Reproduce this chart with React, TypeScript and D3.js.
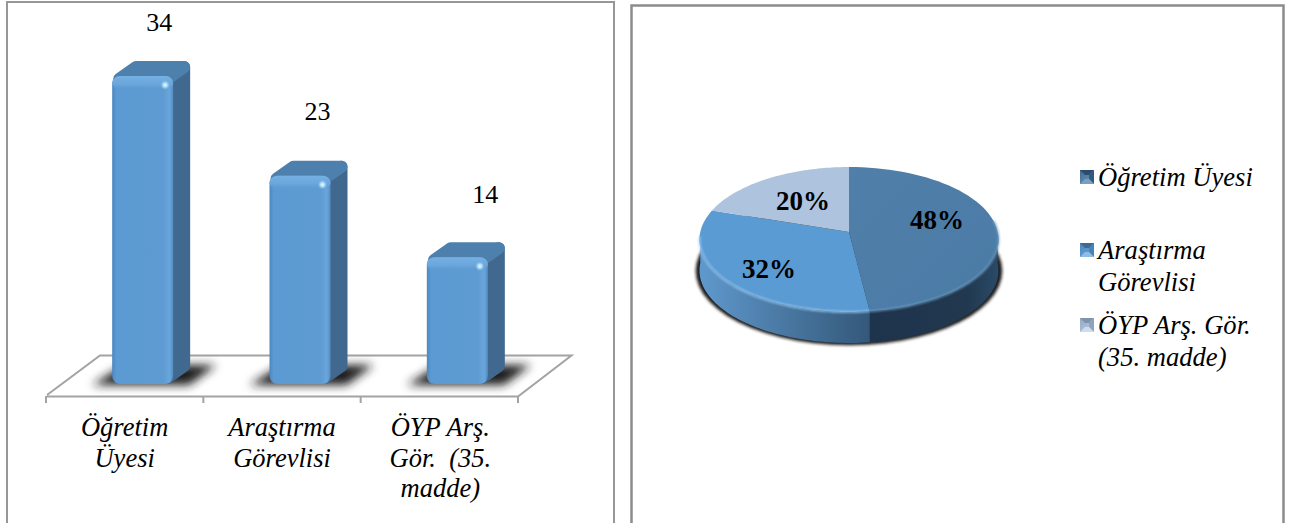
import React from "react";
import * as d3 from "d3";

const barCategories = [["Öğretim", "Üyesi"], ["Araştırma", "Görevlisi"], ["ÖYP Arş.", "Gör.  (35.", "madde)"]];
const barValues = [34, 23, 14];
const pieShares = [48, 32, 20];
const pieLabels = ["48%", "32%", "20%"];
const legendLabels = [["Öğretim Üyesi"], ["Araştırma", "Görevlisi"], ["ÖYP Arş. Gör.", "(35. madde)"]];

const serif = "'Liberation Serif', 'Times New Roman', serif";
const W = 1290, H = 523;

const x = d3.scaleBand<number>().domain([0, 1, 2]).range([46, 518]).paddingInner(0).paddingOuter(0);
const y = d3.scaleLinear().domain([0, 34]).range([384, 76]);
const barW = 61, dx = 17, dy = 15;
const labelDx = [16.5, 17.5, 28];
const labelDy = [-45, -56, -54];

const cx = 849, R = 148.7, c = 0.1034, a = -47.7, b = 232, depth = 31;
const proj = (t: number, r = 1, off = 0): [number, number] => {
  const u = Math.sin(t) * r, v = Math.cos(t) * r, w = 1 + c * v;
  return [cx + (R * u) / w, (a * v + b) / w + off];
};
const samples = (t0: number, t1: number) => d3.range(0, 61).map((i) => t0 + ((t1 - t0) * i) / 60);
const line = d3.line();
const pieArcs = d3.pie<number>().sort(null)(pieShares);

const wedge = (t0: number, t1: number) => line([proj(0, 0), ...samples(t0, t1).map((t) => proj(t))] as [number, number][]) + "Z";
const sidePath = (t0: number, t1: number) => {
  const top = samples(t0, t1).map((t) => proj(t));
  const bot = samples(t1, t0).map((t) => proj(t, 1, depth));
  return line([...top, ...bot]) + "Z";
};
const rimPath = (t0: number, t1: number) => line(samples(t0, t1).map((t) => proj(t))) as string;
const shadowPath = () => line(samples(0, Math.PI * 2).map((t) => proj(t, 1.025, depth))) + "Z";
const pieLabelPos: [number, number][] = [[937, 229], [769, 278], [803, 210]];

const legendRows = [186, 259, 334];

const Marker = ({ mx, my, colors, id }: { mx: number; my: number; colors: string[]; id: string }) => {
  const s = 14, m = s / 2;
  return (
    <g transform={`translate(${mx},${my})`}>
      <rect width={s} height={s} fill={`url(#${id})`} />
      <path d={`M0,0H${s}L${m + 2},${m - 2}L${m - 2},${m - 2}Z`} fill={colors[0]} />
      <path d={`M${s},0V${s}L${m + 2},${m + 2}L${m + 2},${m - 2}Z`} fill={colors[2]} />
      <path d={`M0,${s}H${s}L${m + 2},${m + 2}L${m - 2},${m + 2}Z`} fill={colors[3]} />
    </g>
  );
};
const markerColors = [
  ["#2c4c6c", "#3f6a91", "#35597c", "#7a9fbf"],
  ["#3c6a95", "#4d86ba", "#4a82b6", "#8dbde6"],
  ["#7f93ab", "#93a9c5", "#8ea3bc", "#cfdcec"],
];

export default function App() {
  return (
    <svg width={W} height={H} viewBox={`0 0 ${W} ${H}`} style={{ position: "absolute", left: 0, top: 0, background: "#fff" }}>
      <defs>
        <filter id="blur5" x="-40%" y="-100%" width="180%" height="300%"><feGaussianBlur stdDeviation="5" /></filter>
        <filter id="blur2" x="-10%" y="-10%" width="120%" height="120%"><feGaussianBlur stdDeviation="1.8" /></filter>
        <filter id="blur1" x="-10%" y="-10%" width="120%" height="120%"><feGaussianBlur stdDeviation="0.8" /></filter>
        <linearGradient id="m0" x1="0" x2="1" y1="0" y2="1"><stop offset="0" stopColor="#3f6a91" /><stop offset="1" stopColor="#6f9cc2" /></linearGradient>
        <linearGradient id="m1" x1="0" x2="1" y1="0" y2="1"><stop offset="0" stopColor="#4d86ba" /><stop offset="1" stopColor="#6aa6dc" /></linearGradient>
        <linearGradient id="m2" x1="0" x2="1" y1="0" y2="1"><stop offset="0" stopColor="#93a9c5" /><stop offset="1" stopColor="#b8cbe2" /></linearGradient>
        <linearGradient id="front" x1="0" x2="1" y1="0" y2="0">
          <stop offset="0" stopColor="#4c88c0" />
          <stop offset="0.07" stopColor="#5b9ad3" />
          <stop offset="0.84" stopColor="#5e9bd2" />
          <stop offset="0.94" stopColor="#6aa6dc" />
          <stop offset="1" stopColor="#558cbf" />
        </linearGradient>
        <linearGradient id="frontTop" x1="0" x2="0" y1="0" y2="1">
          <stop offset="0" stopColor="#76b0e3" />
          <stop offset="0.6" stopColor="#6aa6dc" />
          <stop offset="1" stopColor="#5e9bd2" stopOpacity="0" />
        </linearGradient>
        <radialGradient id="spark">
          <stop offset="0" stopColor="#e6f7ff" />
          <stop offset="0.4" stopColor="#b6e0fa" />
          <stop offset="1" stopColor="#79b4e6" stopOpacity="0" />
        </radialGradient>
        <linearGradient id="sideA" x1="0" x2="1" y1="0" y2="0">
          <stop offset="0" stopColor="#5f99cd" />
          <stop offset="0.45" stopColor="#4b7ba6" />
          <stop offset="1" stopColor="#34587a" />
        </linearGradient>
        <linearGradient id="sideB" x1="0" x2="1" y1="0" y2="0">
          <stop offset="0" stopColor="#1e334c" />
          <stop offset="0.75" stopColor="#21384f" />
          <stop offset="1" stopColor="#2a4a68" />
        </linearGradient>
        <linearGradient id="topA" x1="0" x2="1" y1="0" y2="1">
          <stop offset="0" stopColor="#507fa9" />
          <stop offset="1" stopColor="#4a7ba6" />
        </linearGradient>
      </defs>

      <path d={`M7,${H + 2}V2H614V${H + 2}`} fill="none" stroke="#979797" strokeWidth={2} />
      <path d={`M631.5,${H + 2}V5.5H1283.5V${H + 2}`} fill="none" stroke="#8c8c8c" strokeWidth={2.5} />

      <path d="M47,395L100,355.5H571.5L518,396.5H47" fill="none" stroke="#a3a3a3" strokeWidth={2} />
      {[0, 1, 2].map((i) => (
        <line key={i} x1={x(i)} x2={x(i)} y1={396} y2={403} stroke="#a3a3a3" strokeWidth={2} />
      ))}
      <line x1={518} x2={518} y1={396} y2={403} stroke="#a3a3a3" strokeWidth={2} />

      {barValues.map((v, i) => {
        const left = (x(i) as number) + x.bandwidth() / 2 + 18 - barW / 2;
        const right = left + barW;
        const t = y(v), bot = y(0);
        const cxB = left + barW / 2;
        return (
          <g key={i}>
            <path d={`M${left - 20},${bot + 1}L${left + 12},${bot - 19}H${right + dx + 26}L${right + 16},${bot + 1}Z`} fill="#1c1c1c" filter="url(#blur5)" />
            <path d={`M${right - 6},${t + 5}L${right + dx - 6},${t - dy + 6}V${bot - dy - 3}L${right - 6},${bot - 6}Z`}
              fill="#41698f" stroke="#41698f" strokeWidth={12} strokeLinejoin="round" />
            <path d={`M${left + 7},${t + 3}L${left + dx + 7},${t - dy + 6}H${right + dx - 6}L${right - 6},${t + 3}Z`}
              fill="#4e80ad" stroke="#4e80ad" strokeWidth={12} strokeLinejoin="round" />
            <rect x={left} y={t} width={barW} height={bot - t} rx={8} fill="url(#front)" />
            <rect x={left} y={t} width={barW} height={14} rx={8} fill="url(#frontTop)" />
            <ellipse cx={right - 8} cy={t + 9} rx={5} ry={5} fill="url(#spark)" />
            <text x={cxB + labelDx[i]} y={t + labelDy[i]} textAnchor="middle" fontFamily={serif} fontSize={26} fill="#000">{v}</text>
            {barCategories[i].map((ln, j) => (
              <text key={j} x={(x(i) as number) + x.bandwidth() / 2 + (i === 2 ? 1 : 0)} y={436 + j * 30.5} textAnchor="middle"
                fontFamily={serif} fontStyle="italic" fontSize={26.5} fill="#000" style={{ whiteSpace: "pre" }}>{ln}</text>
            ))}
          </g>
        );
      })}

      <path d={shadowPath()} fill="#1a1a1a" filter="url(#blur2)" />
      <path d={sidePath(Math.PI / 2, pieArcs[0].endAngle)} fill="url(#sideB)" />
      <path d={sidePath(pieArcs[1].startAngle, (Math.PI * 3) / 2)} fill="url(#sideA)" />
      <path d={wedge(pieArcs[0].startAngle, pieArcs[0].endAngle)} fill="url(#topA)" />
      <path d={wedge(pieArcs[1].startAngle, pieArcs[1].endAngle)} fill="#5b9bd3" />
      <path d={wedge(pieArcs[2].startAngle, pieArcs[2].endAngle)} fill="#adc3de" />
      <path d={rimPath(pieArcs[1].startAngle, Math.PI * 1.48)} fill="none" stroke="#9fd0f6" strokeWidth={1.6} filter="url(#blur1)" />
      <path d={rimPath(Math.PI * 0.45, pieArcs[0].endAngle)} fill="none" stroke="#6d9dc3" strokeWidth={1.6} filter="url(#blur1)" />
      {pieLabels.map((l, i) => (
        <text key={l} x={pieLabelPos[i][0]} y={pieLabelPos[i][1]} textAnchor="middle" fontFamily={serif} fontWeight="bold" fontSize={27} fill="#000">{l}</text>
      ))}

      {legendLabels.map((rows, i) => (
        <g key={i}>
          <Marker mx={1080} my={legendRows[i] - 16} colors={markerColors[i]} id={`m${i}`} />
          {rows.map((ln, j) => (
            <text key={j} x={1098} y={legendRows[i] + j * 32} fontFamily={serif} fontStyle="italic" fontSize={26.6} fill="#000">{ln}</text>
          ))}
        </g>
      ))}
    </svg>
  );
}
